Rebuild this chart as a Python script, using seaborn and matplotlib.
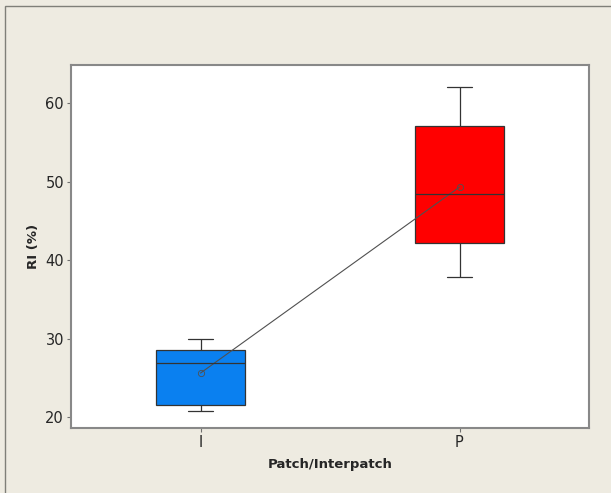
import matplotlib
matplotlib.use('Agg')
import matplotlib.pyplot as plt
from matplotlib.patches import Rectangle
import numpy as np
import pandas as pd
import seaborn as sns

# Five-number summaries (min, Q1, median, Q3, max)
groups = ['I', 'P']
summary_I = [20.8, 21.5, 26.9, 28.5, 30.0]
summary_P = [37.8, 42.2, 48.4, 57.1, 62.0]
means = [25.6, 49.3]
box_colors = ['#0a80f0', '#ff0000']

sns.set_style('white')
plt.rcParams['font.family'] = ['DejaVu Sans']

df = pd.DataFrame({
    'group': [groups[0]] * len(summary_I) + [groups[1]] * len(summary_P),
    'RI': summary_I + summary_P,
})

fig = plt.figure(figsize=(6.11, 4.93), dpi=100)
fig.patch.set_facecolor('#eeebe1')
# outer frame (only top/left edges visible in the original)
fig.add_artist(Rectangle((5 / 611, -0.1), 1.2, 1.1 - 6 / 493, transform=fig.transFigure,
                         fill=False, edgecolor='#7f7f78', linewidth=1.0))

ax = fig.add_axes([71 / 611, 65 / 493, 518 / 611, 363 / 493])
ax.set_facecolor('white')

sns.boxplot(data=df, x='group', y='RI', hue='group', palette=box_colors, order=groups,
            whis=(0, 100), width=0.34, linecolor='#333333', linewidth=0.9,
            saturation=1, dodge=False, legend=False, ax=ax,
            medianprops={'color': '#333333', 'linewidth': 0.9})

# narrow the whisker caps like the original
for ln in ax.lines:
    x = np.asarray(ln.get_xdata(), dtype=float)
    y = np.asarray(ln.get_ydata(), dtype=float)
    if len(x) == 2 and y[0] == y[1] and abs(x[1] - x[0]) < 0.3:
        c = x.mean()
        ln.set_xdata([c - 0.05, c + 0.05])

sns.pointplot(x=groups, y=means, order=groups, color='#505050', markers='o',
              linewidth=0.8, markersize=4.5, markerfacecolor='none', errorbar=None, ax=ax)

ax.set_xlim(-0.5, 1.5)
ax.set_ylim(18.6, 64.85)
ax.set_yticks([20, 30, 40, 50, 60])
ax.set_xlabel('Patch/Interpatch', fontsize=9.5, fontweight='bold', labelpad=6)
ax.set_ylabel('RI (%)', fontsize=9.5, fontweight='bold', labelpad=4)
ax.tick_params(axis='both', length=3, width=0.8, color='#707070', labelsize=10.5, pad=2,
               left=True, bottom=True)
for s in ax.spines.values():
    s.set_color('#888888')
    s.set_linewidth(1.5)

fig.savefig('out.png', dpi=100, facecolor=fig.get_facecolor())
